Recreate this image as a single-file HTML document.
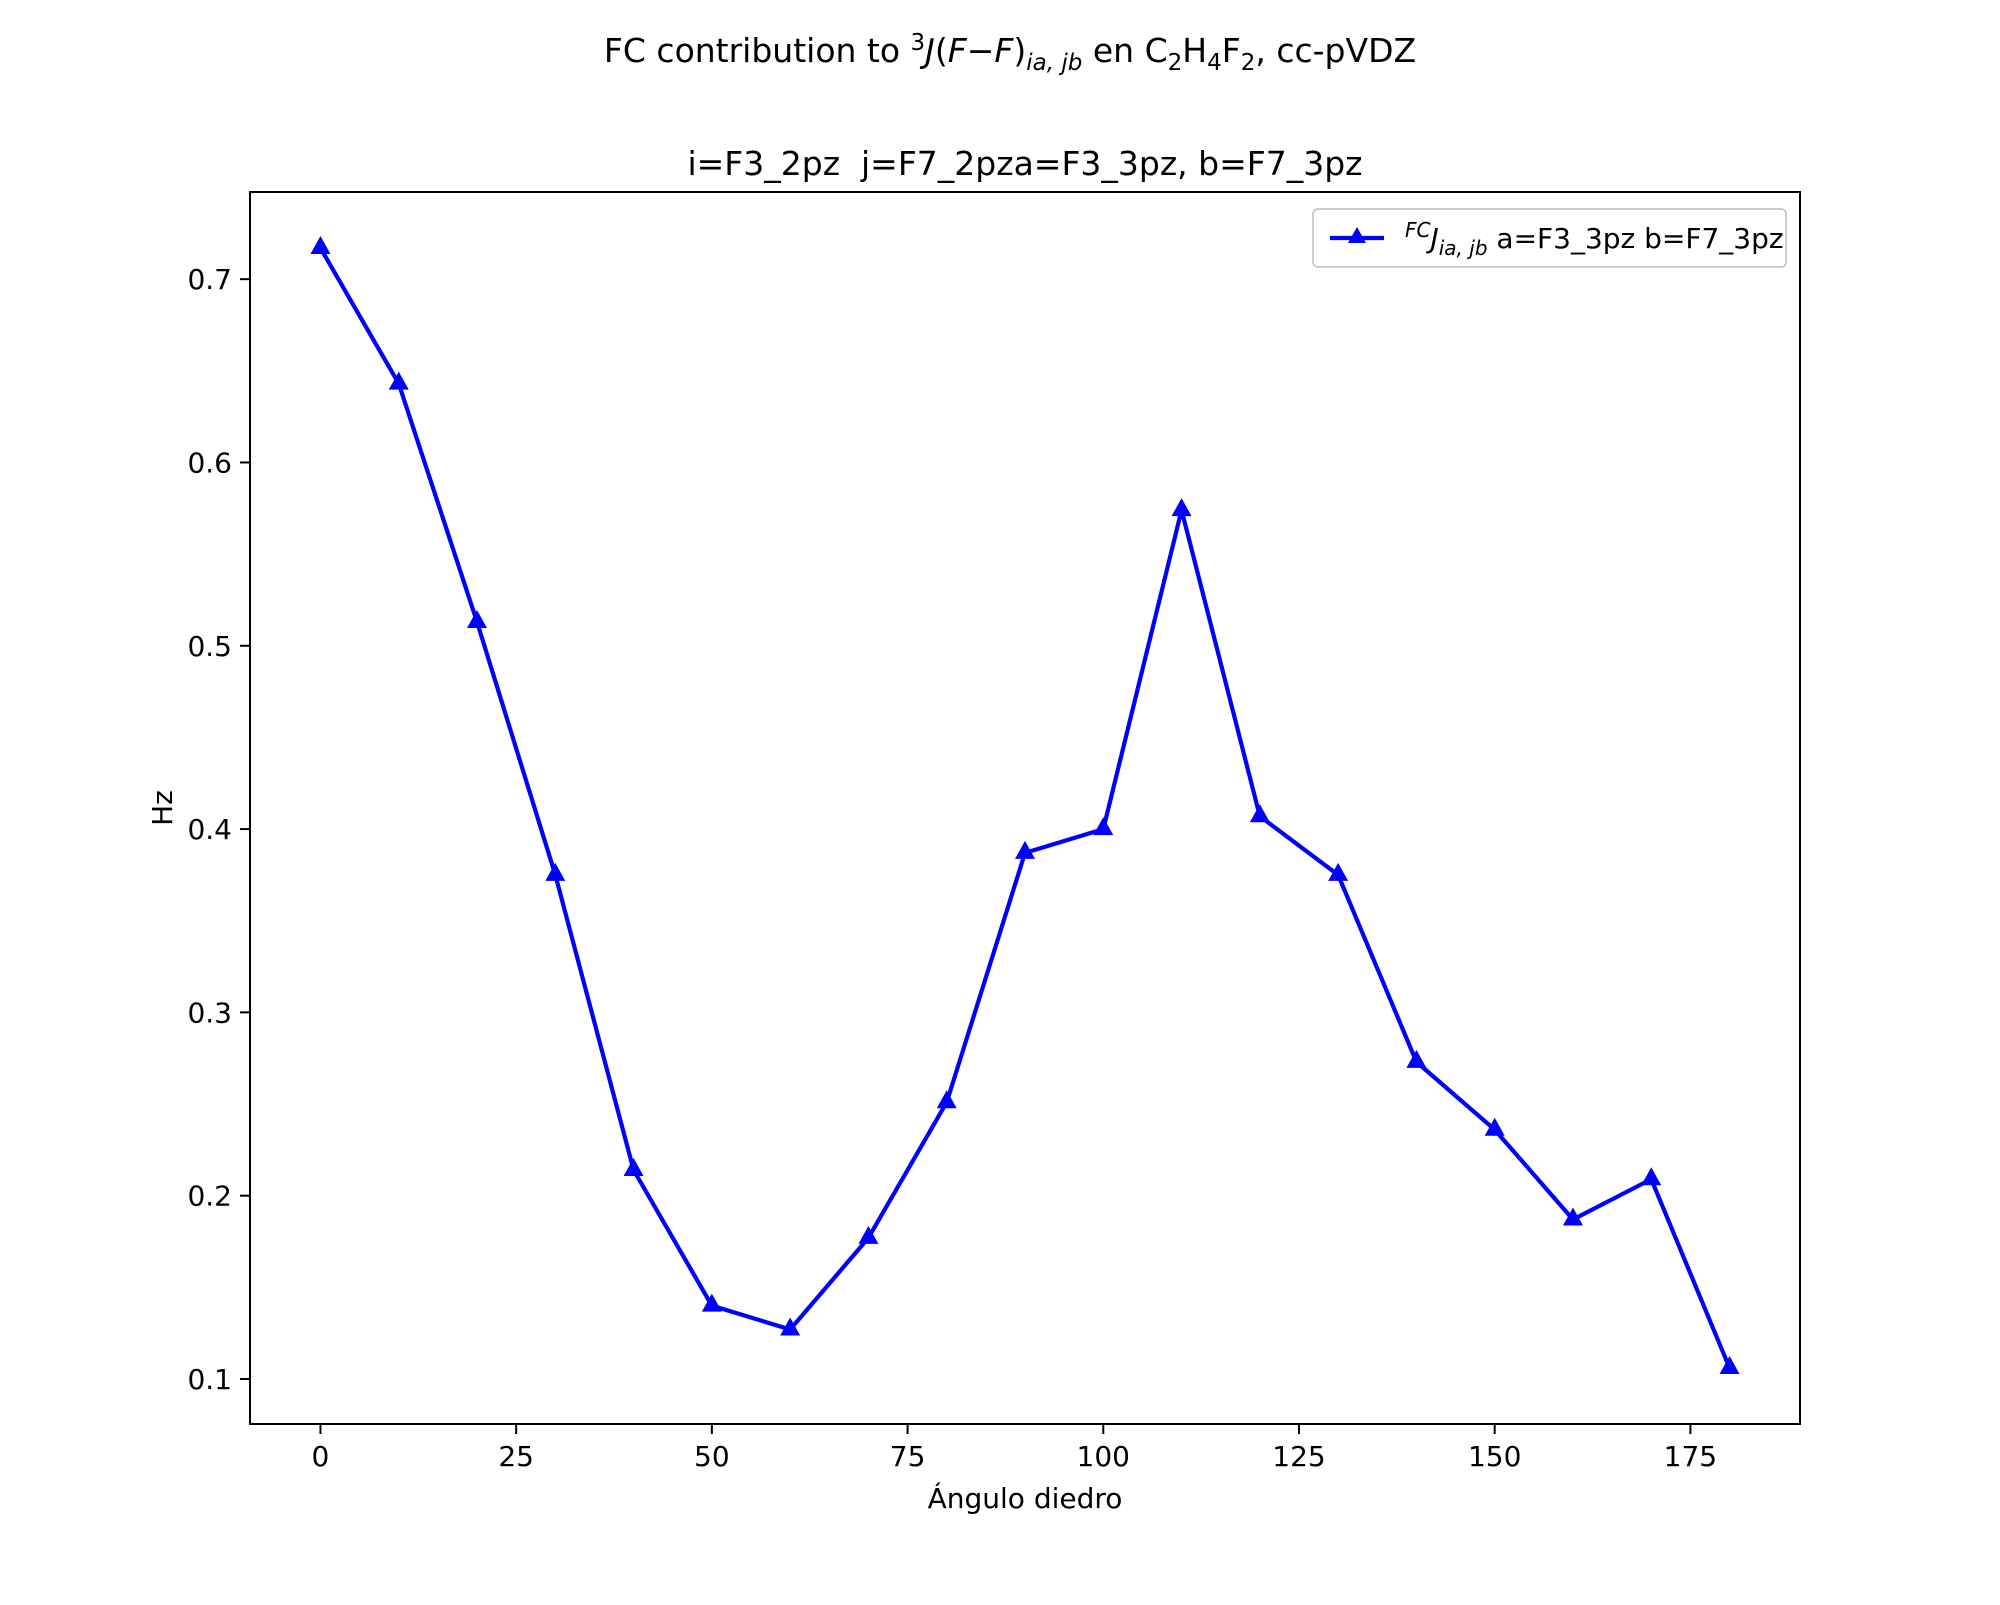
<!DOCTYPE html>
<html><head><meta charset="utf-8"><style>
body{margin:0;background:#fff}
svg text{font-family:"DejaVu Sans","Liberation Sans",sans-serif;fill:#000}
</style></head><body>
<svg id="chart" width="2000" height="1600" viewBox="0 0 2000 1600" xmlns="http://www.w3.org/2000/svg">
<rect width="2000" height="1600" fill="#fff"/>
<text x="1010" y="62" font-size="33" text-anchor="middle">FC contribution to <tspan font-size="23" dy="-12">3</tspan><tspan dy="12" font-style="italic">J</tspan>(<tspan font-style="italic">F</tspan>−<tspan font-style="italic">F</tspan>)<tspan font-size="23" dy="8" font-style="italic">ia, jb</tspan><tspan dy="-8"> en C</tspan><tspan font-size="23" dy="8">2</tspan><tspan dy="-8">H</tspan><tspan font-size="23" dy="8">4</tspan><tspan dy="-8">F</tspan><tspan font-size="23" dy="8">2</tspan><tspan dy="-8">, cc-pVDZ</tspan></text>
<text x="1025" y="175" font-size="33" text-anchor="middle">i=F3_2pz&#160; j=F7_2pza=F3_3pz, b=F7_3pz</text>
<g id="plot"></g>
<text x="1025" y="1508" font-size="28" text-anchor="middle">Ángulo diedro</text>
<text x="172" y="808" font-size="28" text-anchor="middle" transform="rotate(-90 172 808)">Hz</text>
<g>
<rect x="1313" y="209" width="473" height="58" fill="#fff" stroke="#ccc" stroke-width="2" rx="5"/>
<line x1="1330" y1="238" x2="1384" y2="238" stroke="#0000ff" stroke-width="4.2"/>
<polygon points="1357,227 1366,243 1348,243" fill="#0000ff"/>
<text x="1405" y="248" font-size="28"><tspan font-size="20" dy="-11" font-style="italic">FC</tspan><tspan dy="11" font-style="italic">J</tspan><tspan font-size="20" dy="7" font-style="italic">ia, jb</tspan><tspan dy="-7"> a=F3_3pz b=F7_3pz</tspan></text>
</g>
</svg>
<script>
const angles=[0,10,20,30,40,50,60,70,80,90,100,110,120,130,140,150,160,170,180];
const values=[0.717,0.643,0.513,0.375,0.214,0.140,0.127,0.177,0.251,0.387,0.400,0.574,0.407,0.375,0.273,0.236,0.187,0.209,0.106];
const xTicks=[0,25,50,75,100,125,150,175];
const yTicks=[0.1,0.2,0.3,0.4,0.5,0.6,0.7];
const yTickLabels=["0.1","0.2","0.3","0.4","0.5","0.6","0.7"];

const L=250,R=1800,T=192,B=1424;
const xmin0=Math.min(...angles),xmax0=Math.max(...angles),xm=(xmax0-xmin0)*0.05;
const ymin0=Math.min(...values),ymax0=Math.max(...values),ym=(ymax0-ymin0)*0.05;
const xs=v=>L+(v-(xmin0-xm))/((xmax0+xm)-(xmin0-xm))*(R-L);
const ys=v=>B-(v-(ymin0-ym))/((ymax0+ym)-(ymin0-ym))*(B-T);
const NS="http://www.w3.org/2000/svg";
const g=document.getElementById('plot');
function mk(t,a){const e=document.createElementNS(NS,t);for(const k in a)e.setAttribute(k,a[k]);g.appendChild(e);return e;}
xTicks.forEach(v=>{
 const x=xs(v);
 const t=mk('line',{x1:x,y1:B,x2:x,y2:B+10,stroke:'#000','stroke-width':2});
 
 
 const l=mk('text',{x:x,y:B+42,'font-size':28,'text-anchor':'middle'});
 l.textContent=v;
 
 
});
yTicks.forEach((v,i)=>{
 const y=ys(v);
 const t=mk('line',{x1:L-10,y1:y,x2:L,y2:y,stroke:'#000','stroke-width':2});
 
 
 const l=mk('text',{x:L-18,y:y+10,'font-size':28,'text-anchor':'end'});
 l.textContent=yTickLabels[i];
 
 
});
const pts=angles.map((a,i)=>xs(a)+','+ys(values[i])).join(' ');
const line=mk('polyline',{points:pts,fill:'none',stroke:'#0000ff','stroke-width':4.2,'stroke-linejoin':'round'});


angles.forEach((a,i)=>{
 const x=xs(a),y=ys(values[i]);
 const p=mk('polygon',{points:`${x},${y-12} ${x+10},${y+6} ${x-10},${y+6}`,fill:'#0000ff'});
 
 
});
const fr=mk('rect',{x:L,y:T,width:R-L,height:B-T,fill:'none',stroke:'#000','stroke-width':2});


</script>
</body></html>
